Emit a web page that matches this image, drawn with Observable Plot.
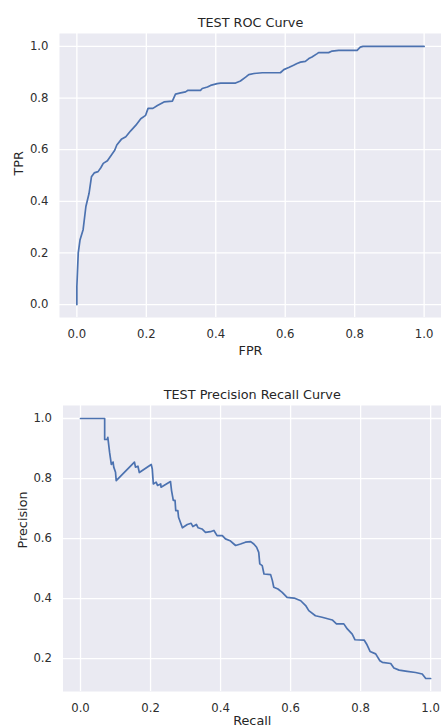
<!DOCTYPE html>
<html>
<head>
<meta charset="utf-8">
<script src="https://cdn.jsdelivr.net/npm/d3@7"></script>
<script src="https://cdn.jsdelivr.net/npm/@observablehq/plot@0.6"></script>
<style>
  html, body { margin: 0; padding: 0; background: #ffffff; }
  #chart { position: relative; width: 441px; height: 728px; overflow: hidden; }
  #chart svg { display: block; }
</style>
</head>
<body>
<div id="chart"></div>
<script>
// ROC curve (test set)
const rocFpr = [0, 0, 0.004, 0.009, 0.018, 0.026, 0.035, 0.042, 0.05, 0.061, 0.069, 0.076, 0.088, 0.1, 0.109, 0.115, 0.128, 0.141, 0.155, 0.17, 0.184, 0.198, 0.205, 0.219, 0.232, 0.251, 0.275, 0.284, 0.299, 0.313, 0.32, 0.356, 0.361, 0.376, 0.385, 0.404, 0.414, 0.457, 0.471, 0.486, 0.495, 0.51, 0.534, 0.586, 0.596, 0.61, 0.624, 0.634, 0.644, 0.658, 0.668, 0.677, 0.692, 0.696, 0.725, 0.735, 0.754, 0.807, 0.816, 0.824, 1.0];
const rocTpr = [0, 0.07, 0.20, 0.25, 0.29, 0.38, 0.43, 0.495, 0.51, 0.515, 0.53, 0.547, 0.557, 0.58, 0.598, 0.618, 0.64, 0.65, 0.673, 0.695, 0.72, 0.733, 0.76, 0.76, 0.771, 0.785, 0.788, 0.815, 0.82, 0.824, 0.83, 0.83, 0.837, 0.843, 0.849, 0.856, 0.858, 0.858, 0.866, 0.881, 0.891, 0.895, 0.898, 0.898, 0.91, 0.918, 0.927, 0.934, 0.939, 0.942, 0.953, 0.959, 0.972, 0.976, 0.976, 0.982, 0.985, 0.985, 0.997, 1.0, 1.0];

// Precision-recall curve (test set)
const prRecall = [0, 0.069, 0.069, 0.076, 0.078, 0.083, 0.088, 0.093, 0.095, 0.1, 0.102, 0.154, 0.157, 0.164, 0.168, 0.202, 0.205, 0.208, 0.216, 0.22, 0.229, 0.23, 0.257, 0.26, 0.265, 0.27, 0.272, 0.278, 0.28, 0.291, 0.305, 0.316, 0.321, 0.331, 0.336, 0.347, 0.357, 0.371, 0.381, 0.39, 0.405, 0.414, 0.427, 0.438, 0.443, 0.457, 0.471, 0.486, 0.495, 0.503, 0.509, 0.512, 0.519, 0.524, 0.543, 0.548, 0.552, 0.564, 0.576, 0.59, 0.61, 0.629, 0.643, 0.652, 0.671, 0.69, 0.719, 0.731, 0.752, 0.762, 0.776, 0.784, 0.81, 0.817, 0.827, 0.843, 0.855, 0.862, 0.886, 0.895, 0.91, 0.933, 0.957, 0.976, 0.986, 1.0];
const prPrecision = [1.0, 1.0, 0.93, 0.93, 0.937, 0.888, 0.847, 0.855, 0.838, 0.821, 0.793, 0.855, 0.838, 0.841, 0.82, 0.847, 0.832, 0.782, 0.788, 0.777, 0.782, 0.771, 0.79, 0.76, 0.727, 0.727, 0.693, 0.693, 0.671, 0.636, 0.647, 0.651, 0.64, 0.647, 0.636, 0.632, 0.621, 0.623, 0.627, 0.61, 0.61, 0.599, 0.593, 0.582, 0.577, 0.582, 0.588, 0.59, 0.582, 0.571, 0.554, 0.516, 0.51, 0.482, 0.48, 0.46, 0.438, 0.432, 0.421, 0.404, 0.402, 0.393, 0.377, 0.36, 0.343, 0.338, 0.329, 0.316, 0.316, 0.299, 0.282, 0.263, 0.262, 0.249, 0.224, 0.216, 0.193, 0.188, 0.184, 0.169, 0.162, 0.158, 0.154, 0.149, 0.134, 0.134];

// Tick values
const xTicks = [0, 0.2, 0.4, 0.6, 0.8, 1.0];
const rocYTicks = [0, 0.2, 0.4, 0.6, 0.8, 1.0];
const prYTicks = [0.2, 0.4, 0.6, 0.8, 1.0];

const fmt = d3.format(".1f");
const lineColor = "#4C72B0";
const bg = "#EAEAF2";

function panel({title, xLabel, yLabel, xs, ys, xDomain, yDomain, yTicks, marginLeft, marginTop, marginBottom, yLabelDx, xLabelDy}) {
  const data = xs.map((x, i) => ({x, y: ys[i]}));
  return Plot.plot({
    width: 441,
    height: 364,
    marginLeft,
    marginRight: 0,
    marginTop,
    marginBottom,
    style: {fontFamily: "'DejaVu Sans', sans-serif", fontSize: "11.7px", color: "#2e2e2e", background: "transparent", overflow: "visible"},
    x: {domain: xDomain},
    y: {domain: yDomain},
    marks: [
      Plot.frame({fill: bg, stroke: null}),
      Plot.gridX(xTicks, {stroke: "white", strokeOpacity: 1, strokeWidth: 1.3}),
      Plot.gridY(yTicks, {stroke: "white", strokeOpacity: 1, strokeWidth: 1.3}),
      Plot.axisX(xTicks, {tickSize: 0, tickPadding: 12, tickFormat: fmt, label: null}),
      Plot.axisY(yTicks, {tickSize: 0, tickPadding: 11, tickFormat: fmt, label: null}),
      Plot.line(data, {x: "x", y: "y", stroke: lineColor, strokeWidth: 1.7}),
      Plot.text([title], {text: d => d, frameAnchor: "top", dy: -11, lineAnchor: "middle", fontSize: 12.8, fill: "#262626"}),
      Plot.text([xLabel], {text: d => d, frameAnchor: "bottom", dy: xLabelDy, lineAnchor: "middle", fontSize: 12.8, fill: "#262626"}),
      Plot.text([yLabel], {text: d => d, frameAnchor: "left", dx: yLabelDx, rotate: -90, lineAnchor: "middle", fontSize: 12.8, fill: "#262626"})
    ]
  });
}

const roc = panel({
  title: "TEST ROC Curve",
  xLabel: "FPR",
  yLabel: "TPR",
  xs: rocFpr,
  ys: rocTpr,
  xDomain: [-0.05, 1.05],
  yDomain: [-0.05, 1.05],
  yTicks: rocYTicks,
  marginLeft: 59,
  marginTop: 33,
  marginBottom: 47,
  yLabelDx: -41,
  xLabelDy: 33
});

const pr = panel({
  title: "TEST Precision Recall Curve",
  xLabel: "Recall",
  yLabel: "Precision",
  xs: prRecall,
  ys: prPrecision,
  xDomain: [-0.05, 1.031],
  yDomain: [0.0907, 1.0433],
  yTicks: prYTicks,
  marginLeft: 62.5,
  marginTop: 41,
  marginBottom: 37,
  yLabelDx: -40.5,
  xLabelDy: 29.5
});

const chart = document.getElementById("chart");
chart.append(roc, pr);
</script>
</body>
</html>
